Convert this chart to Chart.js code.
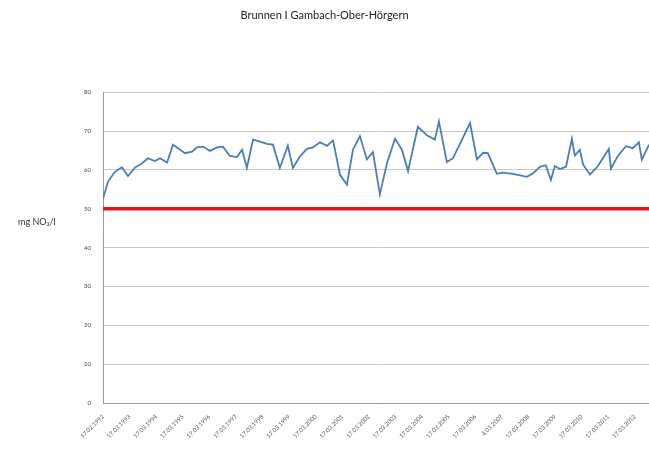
<!DOCTYPE html>
<html>
<head>
<meta charset="utf-8">
<script src="https://cdn.jsdelivr.net/npm/chart.js@4"></script>
<style>
  body { margin: 0; background: #fff; }
  #wrap { width: 649px; height: 453px; position: relative; }
</style>
</head>
<body>
<div id="wrap"><canvas id="myChart"></canvas></div>
<script>
// Sampling dates (decimal years) and nitrate values
const sampleYears = [
  1992.00, 1992.19, 1992.45, 1992.71, 1992.94, 1993.20, 1993.47, 1993.69, 1993.95, 1994.14,
  1994.41, 1994.63, 1994.82, 1995.08, 1995.35, 1995.53, 1995.76, 1996.02, 1996.29, 1996.51,
  1996.77, 1997.04, 1997.23, 1997.41, 1997.64, 1997.90, 1998.17, 1998.39, 1998.65, 1998.95,
  1999.14, 1999.41, 1999.67, 1999.89, 2000.16, 2000.42, 2000.65, 2000.91, 2001.17, 2001.40,
  2001.66, 2001.92, 2002.15, 2002.41, 2002.68, 2002.98, 2003.24, 2003.47, 2003.84, 2004.18,
  2004.48, 2004.63, 2004.93, 2005.16, 2005.50, 2005.80, 2006.06, 2006.29, 2006.47, 2006.81,
  2007.04, 2007.41, 2007.94, 2008.17, 2008.43, 2008.65, 2008.84, 2008.99, 2009.18, 2009.41,
  2009.63, 2009.74, 2009.93, 2010.05, 2010.31, 2010.61, 2011.02, 2011.10, 2011.36, 2011.66,
  2011.92, 2012.15, 2012.26, 2012.53
];
const nitrate = [
  52.6, 57.0, 59.5, 60.7, 58.4, 60.6, 61.7, 63.0, 62.3, 63.0,
  61.9, 66.5, 65.6, 64.3, 64.7, 65.8, 66.0, 64.9, 65.8, 66.0,
  63.6, 63.3, 65.2, 60.5, 67.8, 67.3, 66.7, 66.5, 60.5, 66.2,
  60.5, 63.5, 65.4, 65.8, 67.1, 66.2, 67.6, 58.8, 56.2, 65.2,
  68.7, 62.7, 64.6, 53.7, 61.8, 68.0, 65.2, 59.7, 71.1, 68.9,
  67.8, 72.5, 62.0, 63.0, 67.8, 72.1, 62.7, 64.4, 64.3, 59.0,
  59.3, 59.0, 58.2, 59.1, 60.8, 61.2, 57.4, 61.0, 60.2, 60.8,
  68.0, 63.7, 65.2, 61.4, 58.8, 61.0, 65.4, 60.3, 63.6, 66.1,
  65.6, 67.1, 62.6, 66.5
];
const limitValue = 50;
const firstYear = 1992;
const lastYear = 2012.53;
const tickLabels = [
  '17.02.1992', '17.03.1993', '17.03.1994', '17.03.1995', '17.03.1996', '17.03.1997',
  '17.03.1998', '17.03.1999', '17.03.2000', '17.03.2001', '17.03.2002', '17.03.2003',
  '17.03.2004', '17.03.2005', '17.03.2006', '4.03.2007', '17.03.2008', '17.03.2009',
  '17.03.2010', '17.03.2011', '17.03.2012'
];

// y-axis title is written horizontally left of the axis
const yTitlePlugin = {
  id: 'yTitle',
  afterDraw(chart) {
    const ctx = chart.ctx;
    const y = chart.scales.y.getPixelForValue(46.5);
    ctx.save();
    ctx.font = '9px Lato, sans-serif';
    ctx.fillStyle = '#333';
    ctx.textBaseline = 'middle';
    ctx.fillText('mg NO\u2083/l', 18, y);
    ctx.restore();
  }
};

const ctx = document.getElementById('myChart').getContext('2d');
new Chart(ctx, {
  type: 'line',
  data: {
    datasets: [
      {
        label: 'Nitrat',
        data: sampleYears.map((yr, i) => ({ x: yr, y: nitrate[i] })),
        borderColor: '#4a7ebb',
        borderWidth: 1.8,
        pointRadius: 0,
        tension: 0,
        order: 1
      },
      {
        label: 'Grenzwert',
        data: [{ x: firstYear, y: limitValue }, { x: lastYear, y: limitValue }],
        borderColor: '#e8141c',
        borderWidth: 3.5,
        pointRadius: 0,
        order: 2
      }
    ]
  },
  options: {
    responsive: true,
    maintainAspectRatio: false,
    animation: false,
    layout: { padding: { top: 0, right: 0, left: 0, bottom: 0 } },
    plugins: {
      legend: { display: false },
      tooltip: { enabled: false },
      title: {
        display: true,
        text: 'Brunnen I Gambach-Ober-Hörgern',
        color: '#222',
        font: { family: 'Lato', size: 11, weight: 'normal' },
        padding: { top: 9, bottom: 70 }
      }
    },
    scales: {
      x: {
        type: 'linear',
        min: firstYear,
        max: lastYear,
        afterFit(scale) { scale.height = 50; },
        afterBuildTicks(scale) {
          scale.ticks = scale.ticks.filter(t => Number.isInteger(t.value));
        },
        grid: { display: false },
        border: { display: true, color: '#9a9a9a', width: 1 },
        ticks: {
          stepSize: 1,
          autoSkip: false,
          minRotation: 45,
          maxRotation: 45,
          padding: 2,
          color: '#555',
          font: { family: 'Lato', size: 6 },
          callback: v => tickLabels[v - firstYear]
        }
      },
      y: {
        min: 0,
        max: 80,
        afterFit(scale) { scale.width = 103; },
        grid: { color: '#c8c8c8', lineWidth: 1, drawTicks: false },
        border: { display: true, color: '#9a9a9a', width: 1 },
        ticks: {
          stepSize: 10,
          padding: 12,
          color: '#444',
          font: { family: 'Lato', size: 6 }
        }
      }
    }
  },
  plugins: [yTitlePlugin]
});
</script>
</body>
</html>
